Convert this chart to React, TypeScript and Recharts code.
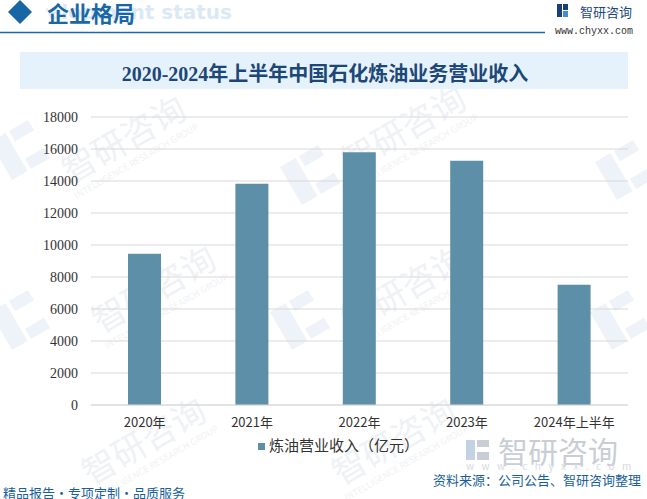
import React from 'react';
import { BarChart, Bar, XAxis, YAxis, CartesianGrid, Legend } from 'recharts';

// chart values
const years = ['2020年', '2021年', '2022年', '2023年', '2024年上半年'];
const refiningRevenue = [9460, 13830, 15790, 15270, 7520];
const yTicks = [0, 2000, 4000, 6000, 8000, 10000, 12000, 14000, 16000, 18000];
const seriesName = '炼油营业收入（亿元）';

const data = years.map((name, i) => ({ name, revenue: refiningRevenue[i] }));

const sans = '"Noto Sans CJK SC", "Noto Sans", sans-serif';
const blue = '#1a5f9c';

// faint brand watermarks spread over the page
const wmText = [
  { x: 130, y: 150 }, { x: 160, y: 300 }, { x: 410, y: 140 },
  { x: 410, y: 300 }, { x: 150, y: 452 }, { x: 400, y: 452 },
];
const wmIcon = [
  { x: 20, y: 150 }, { x: 310, y: 175 }, { x: 625, y: 170 },
  { x: 20, y: 320 }, { x: 300, y: 320 }, { x: 620, y: 320 },
];

function Watermarks() {
  return (
    <svg width={647} height={499} style={{ position: 'absolute', left: 0, top: 0 }}>
      {wmIcon.map((p, i) => (
        <g key={'i' + i} transform={`translate(${p.x},${p.y}) rotate(-30)`} fill="#edf3f9">
          <rect x={-22} y={-22} width={18} height={44} />
          <rect x={0} y={-22} width={22} height={12} />
          <rect x={0} y={10} width={22} height={12} />
        </g>
      ))}
      {wmText.map((p, i) => (
        <g key={'t' + i} transform={`translate(${p.x},${p.y}) rotate(-30)`}>
          <text textAnchor="middle" fontFamily={sans} fontSize={34} fill="#eff2f5">智研咨询</text>
          <text y={16} textAnchor="middle" fontFamily={sans} fontSize={9} fill="#eff2f5">
            INTELLIGENCE RESEARCH GROUP
          </text>
        </g>
      ))}
      {/* big logo near the source line */}
      <g fill="#c9ced5">
        <rect x={466} y={440} width={9} height={20} fill="#c3d3e3" />
        <rect x={477} y={440} width={12} height={7} />
        <rect x={477} y={452} width={12} height={8} />
        <text x={498} y={450} dominantBaseline="central" fontFamily={sans} fontSize={30}>智研咨询</text>
        <text x={466} y={465} dominantBaseline="central" fontFamily={sans} fontSize={10} fill="#d6dae0"
          letterSpacing={7.5}>www.chyxx.com</text>
      </g>
    </svg>
  );
}

function Frame() {
  return (
    <svg width={647} height={499} style={{ position: 'absolute', left: 0, top: 0, pointerEvents: 'none' }}>
      <defs>
        <linearGradient id="footLine" x1="0" x2="1" y1="0" y2="0">
          <stop offset="0" stopColor="#17599a" />
          <stop offset="1" stopColor="#4f93cc" />
        </linearGradient>
        <clipPath id="headClip">
          <rect x={46} y={0} width={200} height={30} />
        </clipPath>
      </defs>
      {/* header */}
      <polygon points="20,0 32,12 20,24 8,12" fill="#1767a6" />
      <text x={232} y={12} textAnchor="end" dominantBaseline="central" fontFamily='"DejaVu Sans", sans-serif'
        fontWeight="bold" fontSize={20} fill="#dbe9f5" clipPath="url(#headClip)">Development status</text>
      <text x={47} y={12} dominantBaseline="central" fontFamily={sans} fontWeight="bold" fontSize={22}
        fill="#1a67a5">企业格局</text>
      <line x1={0} x2={545} y1={32.5} y2={32.5} stroke="#1a67a5" strokeWidth={1.5} />
      <rect x={557} y={4} width={5} height={13} fill="#1c3f7a" />
      <rect x={563} y={4} width={5} height={6} fill="#1c3f7a" />
      <rect x={563} y={11} width={5} height={6} fill="#3f8fd0" />
      <text x={580} y={11.5} dominantBaseline="central" fontFamily={sans} fontSize={13} fill="#1c4a80">智研咨询</text>
      <text x={555} y={31.5} dominantBaseline="central" fontFamily='"Liberation Mono", monospace' fontSize={10}
        fill="#333">www.chyxx.com</text>

      {/* title box */}
      <rect x={20} y={52} width={608} height={37} fill="#e6f2fb" />
      <text x={325} y={73.5} textAnchor="middle" dominantBaseline="central"
        fontFamily={'"Liberation Serif", "Noto Sans CJK SC", serif'} fontWeight="bold" fontSize={20}
        fill="#1d4777">2020-2024年上半年中国石化炼油业务营业收入</text>

      {/* footer */}
      <line x1={0} x2={425} y1={478.5} y2={478.5} stroke="url(#footLine)" strokeWidth={1.5} />
      <text x={433} y={479} dominantBaseline="central" fontFamily={sans} fontSize={13} fill={blue}>
        资料来源：公司公告、智研咨询整理
      </text>
      <text x={3} y={492} dominantBaseline="central" fontFamily={sans} fontSize={13} fill={blue}>
        精品报告·专项定制·品质服务
      </text>
    </svg>
  );
}

export default function App() {
  return (
    <div style={{ position: 'absolute', left: 0, top: 0, width: 647, height: 499, overflow: 'hidden',
      background: '#fff', fontFamily: sans }}>
      <Watermarks />
      <div style={{ position: 'absolute', left: 0, top: 0 }}>
        <BarChart width={647} height={460} data={data}
          margin={{ top: 117, right: 19, left: 31, bottom: 0 }}>
          <CartesianGrid vertical={false} stroke="#d9d9d9" />
          <XAxis dataKey="name" height={25} tickLine={false} tickSize={0} tickMargin={13}
            axisLine={{ stroke: '#d9d9d9' }} interval={0}
            tick={{ fill: '#333', fontSize: 13, fontFamily: sans }} />
          <YAxis width={60} domain={[0, 18000]} ticks={yTicks} interval={0} axisLine={false}
            tickLine={false} tickSize={0} tickMargin={13}
            tick={{ fill: '#333', fontSize: 14, fontFamily: '"Liberation Serif", serif' }} />
          <Legend iconType="square" iconSize={7}
            wrapperStyle={{ height: 30, lineHeight: '30px', fontSize: 15, fontFamily: sans,
              left: 258, width: 'auto' }}
            formatter={(v) => <span style={{ color: '#333' }}>{v}</span>} />
          <Bar dataKey="revenue" name={seriesName} fill="#5d8fa8" barSize={33} isAnimationActive={false} />
        </BarChart>
      </div>
      <Frame />
    </div>
  );
}
